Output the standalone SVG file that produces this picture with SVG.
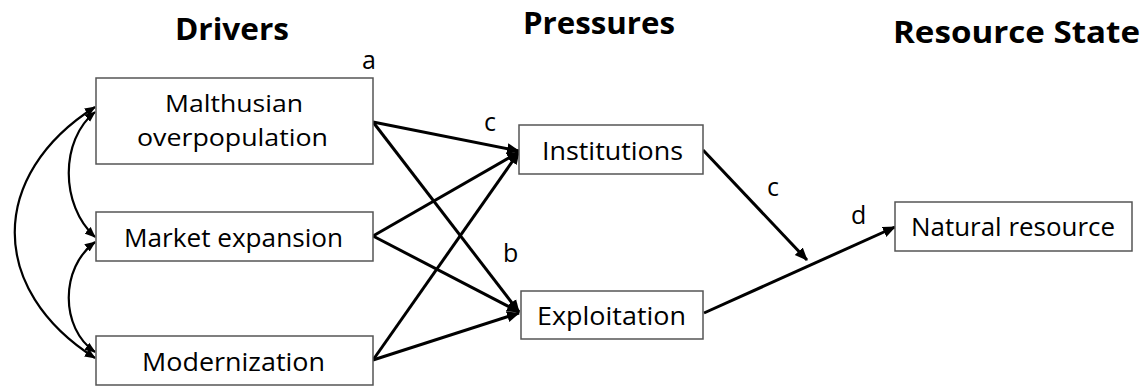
<svg xmlns="http://www.w3.org/2000/svg" width="1148" height="387" viewBox="0 0 1148 387">
<style>
.box{fill:#fff;stroke:#555;stroke-width:1.5}
.t{font-family:"Open Sans","Liberation Sans",sans-serif;font-size:26px;fill:#000;text-anchor:start}
.t2{font-family:"Open Sans","Liberation Sans",sans-serif;font-size:24px;fill:#000;text-anchor:start}
.h{font-family:"Open Sans","Liberation Sans",sans-serif;font-size:31px;font-weight:bold;fill:#000}
.lbl{font-family:"Open Sans","Liberation Sans",sans-serif;font-size:25px;fill:#000}
.ar{fill:none;stroke:#000;stroke-width:3}
.cv{fill:none;stroke:#000;stroke-width:2.2}
</style>
<defs>
<marker id="ah" markerUnits="userSpaceOnUse" markerWidth="14" markerHeight="12" refX="12" refY="6" orient="auto-start-reverse" viewBox="0 0 14 12">
<path d="M0,0.5 L13,6 L0,11.5 z" fill="#000"/>
</marker>
<marker id="ah2" markerUnits="userSpaceOnUse" markerWidth="12" markerHeight="10" refX="10" refY="5" orient="auto-start-reverse" viewBox="0 0 12 10">
<path d="M0,0.5 L11,5 L0,9.5 z" fill="#000"/>
</marker>
</defs>
<rect width="1148" height="387" fill="#fff"/>
<g id="headers">
<text class="h" x="175" y="40" textLength="114" lengthAdjust="spacingAndGlyphs">Drivers</text>
<text class="h" x="523" y="34" textLength="152" lengthAdjust="spacingAndGlyphs">Pressures</text>
<text class="h" x="893" y="43" textLength="247" lengthAdjust="spacingAndGlyphs">Resource State</text>
</g>
<g id="connectors">
<path class="ar" marker-end="url(#ah)" d="M373,122 L519,151"/>
<path class="ar" marker-end="url(#ah)" d="M373,122 L519,312"/>
<path class="ar" marker-end="url(#ah)" d="M373,236 L519,152"/>
<path class="ar" marker-end="url(#ah)" d="M373,236 L519,312"/>
<path class="ar" marker-end="url(#ah)" d="M373,360 L519,152"/>
<path class="ar" marker-end="url(#ah)" d="M373,360 L519,313"/>
<path class="ar" marker-end="url(#ah)" d="M703,150 L807,260"/>
<path class="ar" marker-end="url(#ah)" d="M704,313 L895,227"/>
<path class="cv" marker-start="url(#ah2)" marker-end="url(#ah2)" d="M95,112 C60,140 60,205 95,237"/>
<path class="cv" marker-start="url(#ah2)" marker-end="url(#ah2)" d="M95,242 C60,268 60,328 95,352"/>
<path class="cv" marker-start="url(#ah2)" marker-end="url(#ah2)" d="M95,107 C-12,175 -12,290 95,358"/>
</g>
<g id="labels">
<text class="lbl" x="362" y="69">a</text>
<text class="lbl" x="484" y="131">c</text>
<text class="lbl" x="503" y="262">b</text>
<text class="lbl" x="767" y="196">c</text>
<text class="lbl" x="851" y="224">d</text>
</g>
<g id="node-malthusian">
<rect class="box" x="96" y="78" width="277" height="86"/>
<text class="t2" x="165" y="112" textLength="138" lengthAdjust="spacingAndGlyphs">Malthusian</text>
<text class="t2" x="137" y="146" textLength="191" lengthAdjust="spacingAndGlyphs">overpopulation</text>
</g>
<g id="node-market">
<rect class="box" x="96" y="212" width="277" height="49"/>
<text class="t" x="124" y="247" textLength="219" lengthAdjust="spacingAndGlyphs">Market expansion</text>
</g>
<g id="node-modernization">
<rect class="box" x="96" y="336" width="277" height="49"/>
<text class="t" x="142" y="371" textLength="183" lengthAdjust="spacingAndGlyphs">Modernization</text>
</g>
<g id="node-institutions">
<rect class="box" x="519" y="125" width="184" height="49"/>
<text class="t" x="542" y="160" textLength="141" lengthAdjust="spacingAndGlyphs">Institutions</text>
</g>
<g id="node-exploitation">
<rect class="box" x="521" y="291" width="182" height="48"/>
<text class="t" x="537" y="325" textLength="149" lengthAdjust="spacingAndGlyphs">Exploitation</text>
</g>
<g id="node-natural">
<rect class="box" x="895" y="202" width="237" height="49"/>
<text class="t" x="911" y="236" textLength="204" lengthAdjust="spacingAndGlyphs">Natural resource</text>
</g>
</svg>
